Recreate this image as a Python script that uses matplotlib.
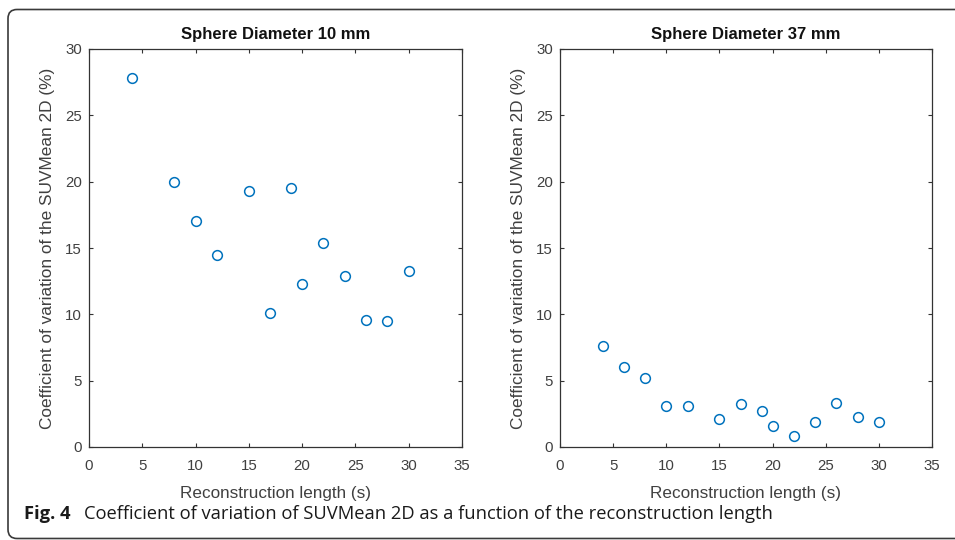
import matplotlib
matplotlib.use("Agg")
import matplotlib.pyplot as plt
from matplotlib.path import Path
from matplotlib.patches import PathPatch

# Data
x_10mm = [4, 8, 10, 12, 15, 17, 19, 20, 22, 24, 26, 28, 30]
cv_10mm = [27.8, 20.0, 17.0, 14.5, 19.3, 10.1, 19.5, 12.3, 15.35, 12.9, 9.6, 9.5, 13.3]
x_37mm = [4, 6, 8, 10, 12, 15, 17, 19, 20, 22, 24, 26, 28, 30]
cv_37mm = [7.6, 6.0, 5.2, 3.1, 3.1, 2.1, 3.26, 2.74, 1.6, 0.8, 1.86, 3.34, 2.28, 1.86]
titles = ["Sphere Diameter 10 mm", "Sphere Diameter 37 mm"]
xlabel = "Reconstruction length (s)"
ylabel = "Coefficient of variation of the SUVMean 2D (%)"
xticks = [0, 5, 10, 15, 20, 25, 30, 35]
yticks = [0, 5, 10, 15, 20, 25, 30]

W, H = 955, 540
fig = plt.figure(figsize=(W / 100, H / 100), dpi=100)
fig.patch.set_facecolor("white")

txt = "#404040"
spine_c = "#333333"
blue = "#0072BD"
font = ["Liberation Sans", "DejaVu Sans"]

axes_px = [(89, 462), (560, 932)]
top_px, bot_px = 49, 447
series = [(x_10mm, cv_10mm), (x_37mm, cv_37mm)]

for i, ((x0, x1), (xs, ys)) in enumerate(zip(axes_px, series)):
    ax = fig.add_axes([x0 / W, 1 - bot_px / H, (x1 - x0) / W, (bot_px - top_px) / H])
    ax.plot(xs, ys, linestyle="none", marker="o", markersize=7,
            markerfacecolor="none", markeredgecolor=blue, markeredgewidth=1.1)
    ax.set_xlim(0, 35)
    ax.set_ylim(0, 30)
    ax.set_xticks(xticks)
    ax.set_yticks(yticks)
    ax.tick_params(direction="in", top=True, right=True, length=3, width=0.8,
                   color=spine_c, labelcolor=txt, labelsize=10.8)
    ax.tick_params(axis="x", pad=8.5)
    ax.tick_params(axis="y", pad=5)
    for lab in ax.get_xticklabels() + ax.get_yticklabels():
        lab.set_family(font)
    for s in ax.spines.values():
        s.set_color(spine_c)
        s.set_linewidth(0.9)
    ax.set_title(titles[i], fontsize=12, fontweight="bold", color="#111111",
                 family=font, pad=7)
    ax.set_xlabel(xlabel, fontsize=12.3, color=txt, family=font, labelpad=9.5)
    ax.set_ylabel(ylabel, fontsize=12.4, color=txt, family=font, labelpad=7)

# caption
cap_font = ["Open Sans", "DejaVu Sans"]
fig.text(24 / W, 1 - 514 / H, "Fig. 4", fontsize=13.2, fontweight="bold",
         family=cap_font, va="center", ha="left", color="#1a1a1a")
fig.text(84 / W, 1 - 514 / H,
         "Coefficient of variation of SUVMean 2D as a function of the reconstruction length",
         fontsize=13.2, family=cap_font, va="center", ha="left", color="#1a1a1a")

# rounded border: top and left edges visible, continues past the right edge
rx, ry = 9 / W, 9 / H
left, top, bottom = 8 / W, 1 - 9.5 / H, 1.5 / H
right = 1.3
verts = [
    (right, top), (left + rx, top), (left, top), (left, top - ry),
    (left, bottom + ry), (left, bottom), (left + rx, bottom), (right, bottom),
]
codes = [Path.MOVETO, Path.LINETO, Path.CURVE3, Path.CURVE3,
         Path.LINETO, Path.CURVE3, Path.CURVE3, Path.LINETO]
border = PathPatch(Path(verts, codes), transform=fig.transFigure, fill=False,
                   edgecolor="#3a3a3a", linewidth=1.2, clip_on=False)
fig.add_artist(border)

fig.savefig("out.png", dpi=100)
